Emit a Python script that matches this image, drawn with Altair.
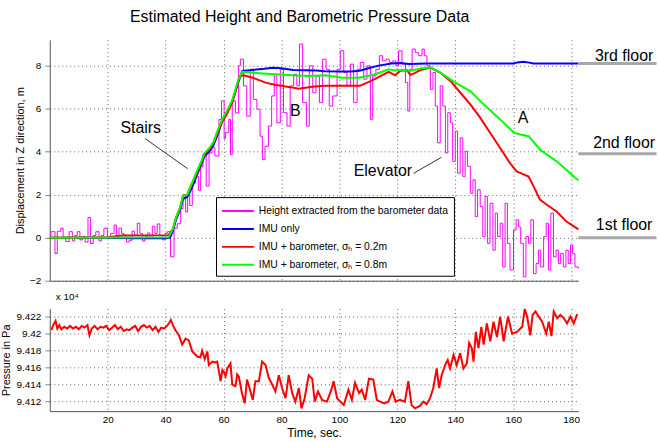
import altair as alt
import pandas as pd

FONT = "Liberation Sans"

# ---------------- data ----------------
series_names = [
    "Height extracted from the barometer data",
    "IMU only",
    "IMU + barometer, σₕ = 0.2m",
    "IMU + barometer, σₕ = 0.8m",
]
series_colors = ["#ff00ff", "#0000ff", "#ff0000", "#00ff00"]

baro_t = [0, 0.4, 1.8, 2.6, 3.8, 4.6, 5.5, 6.7, 7.8, 8.6,
          9.5, 10.4, 11.3, 12.2, 13.2, 14.1, 15.0, 15.9, 17.0, 17.8,
          18.7, 19.9, 21.0, 22.2, 23.0, 23.9, 24.8, 25.6, 26.5, 27.4,
          28.4, 29.3, 30.2, 31.1, 32.0, 32.9, 33.7, 34.6, 35.4, 36.3,
          37.1, 38.0, 38.9, 39.8, 40.6, 41.7, 42.9, 44.0, 45.2, 46.0,
          46.9, 47.6, 48.3, 49.2, 50.3, 51.3, 52.1, 52.9, 54.0, 55.0,
          56.0, 57.0, 58.4, 59.3, 60.2, 60.7, 61.8, 62.4, 63.0, 64.1,
          65.2, 65.8, 66.9, 68.0, 69.2, 70.3, 71.5, 72.6, 73.4, 74.3,
          75.5, 76.6, 77.5, 78.4, 79.6, 80.7, 81.9, 83.0, 84.2, 85.3,
          86.2, 87.3, 88.6, 89.6, 90.8, 91.9, 93.1, 94.2, 95.4, 96.5,
          97.7, 99.2, 100.3, 101.5, 102.6, 103.8, 104.9, 106.1, 107.2, 108.4,
          109.5, 110.7, 111.5, 112.6, 113.8, 114.9, 116.1, 117.2, 118.4, 119.5,
          120.4, 121.6, 122.8, 123.6, 124.3, 125.1, 126.2, 127.4, 128.5, 129.3,
          130.2, 131.4, 132.3, 133.1, 133.9, 134.8, 135.7, 136.6, 137.4, 138.3,
          139.1, 140.0, 140.8, 141.7, 142.6, 143.4, 144.2, 145.2, 146.1, 146.9,
          147.7, 148.6, 149.5, 150.3, 151.1, 152.0, 153.0, 153.8, 154.6, 155.5,
          156.4, 157.2, 158.0, 158.9, 160.1, 161.0, 161.9, 162.6, 163.5, 164.4,
          165.3, 166.1, 167.0, 167.9, 168.7, 169.5, 170.5, 171.4, 172.2, 173.0,
          173.9, 174.8, 175.6, 176.4, 177.3, 178.2, 179.0, 179.8, 180.5, 181.3,
          182.5]
baro_h = [0.1, 0.28, -0.73, 0.3, 0.44, 0.0, -0.18, 0.28, -0.15, 0.1,
          0.28, -0.1, 0.06, -0.2, 0.94, -0.27, 0.1, 0.28, -0.15, 0.1,
          0.44, -0.03, 0.2, 0.59, 0.1, 0.44, 0.2, 0.12, -0.2, -0.12,
          0.3, 0.1, 0.67, 0.2, -0.15, 0.05, 0.22, 0.0, 0.53, 0.2,
          0.64, 0.1, -0.1, 0.2, 0.28, -0.89, 0.44, 0.65, 1.36, 2.0,
          1.2, 2.0, 1.5, 2.54, 2.85, 2.2, 3.3, 3.9, 2.4, 3.94,
          4.2, 3.8, 5.5, 6.36, 4.6, 4.88, 5.5, 3.86, 6.36, 5.8,
          8.0, 8.3, 7.06, 5.65, 7.83, 6.43, 5.97, 4.72, 3.63, 4.25,
          5.19, 6.59, 7.52, 5.34, 7.83, 5.81, 5.19, 7.06, 7.6, 7.06,
          9.0, 6.28, 5.19, 7.99, 6.74, 7.52, 6.28, 8.3, 7.83, 6.12,
          6.59, 7.83, 8.69, 7.68, 7.06, 8.07, 6.28, 7.83, 8.15, 7.37,
          7.99, 5.5, 7.52, 7.83, 8.46, 8.22, 8.3, 8.15, 8.22, 7.99,
          8.69, 8.07, 7.21, 5.89, 7.83, 8.77, 8.6, 8.46, 8.77, 8.46,
          7.99, 6.9, 7.68, 6.12, 4.41, 7.06, 6.12, 3.94, 5.81, 5.34,
          3.55, 4.95, 3.0, 4.64, 2.85, 4.02, 3.32, 2.07, 2.69, 0.98,
          2.23, 1.45, 0.05, 1.92, -0.26, 1.6, -0.58, 1.14, 0.05, 0.67,
          -1.36, 1.6, -0.26, -1.5, 0.36, 0.83, 0.5, -0.26, -1.82, 0.05,
          -0.26, 0.83, -1.67, -1.2, -0.58, -1.36, 0.05, 0.67, -1.5, 1.14,
          -0.89, -0.58, -1.2, -0.73, -1.36, -0.58, -1.2, -0.34, -0.73, -1.36,
          -1.43]

imu_t = [0, 10, 20, 28, 40, 41.5, 42.5, 43.5, 45, 46, 47.5, 49, 50.5, 52, 53.5,
         55, 56.5, 58, 59.5, 61, 63, 65, 66.5, 70, 74, 77, 80, 84, 88, 92, 95,
         100, 104, 107, 110, 113.5, 118, 121, 124, 130, 140, 150, 160, 161.5,
         163.5, 165.5, 167, 175, 182.5]
imu_h = [0.0, 0.0, 0.0, -0.03, -0.03, 0.0, 0.3, 0.8, 1.3, 1.8, 1.9, 2.3, 2.8, 3.3, 3.8,
         4.0, 4.3, 4.8, 5.4, 5.8, 6.3, 7.2, 7.75, 7.8, 7.85, 7.9, 7.88, 7.8, 7.78, 7.77, 7.74,
         7.73, 7.73, 7.76, 7.88, 8.0, 8.1, 8.12, 8.08, 8.1, 8.1, 8.1, 8.1, 8.15,
         8.18, 8.14, 8.1, 8.1, 8.1]

f02_t = [0, 20, 25, 41, 42.5, 43.5, 45, 46, 47.5, 49, 50.5, 52, 53.5, 55, 56.5,
         58, 59.5, 61, 63, 64.5, 65.5, 67, 70, 74.5, 78, 80, 83, 86, 90.5, 95,
         101, 107, 111, 114, 117, 119.3, 121, 123.3, 124.5, 126, 128, 131.4, 134.8,
         138.3, 141.7, 145.2, 148.6, 152, 155.5, 158.9, 161.2, 163, 165.3, 167,
         169.3, 172, 175, 178.4, 182.5]
f02_h = [0.0, 0.02, 0.1, 0.12, 0.4, 0.9, 1.4, 1.95, 2.0, 2.5, 2.9, 3.4, 3.9, 4.1, 4.4,
         4.9, 5.4, 5.7, 6.3, 7.0, 7.5, 7.55, 7.44, 7.21, 7.1, 7.06, 7.0, 6.93, 7.02, 7.06,
         7.06, 7.06, 7.29, 7.5, 7.71, 7.55, 7.76, 7.79, 7.57, 7.65, 7.8, 7.91, 7.68,
         7.29, 6.75, 6.2, 5.58, 4.88, 4.17, 3.47, 3.08, 2.98, 2.84, 2.4,
         1.76, 1.5, 1.22, 0.75, 0.39]

f08_t = [0, 41, 42.5, 43.5, 45, 46, 47.5, 49, 50.5, 52, 53.5, 55, 56.5, 58, 59.5,
         61, 63, 65, 66.4, 72.2, 78, 83.7, 89.4, 95.2, 101, 106.7, 112.4, 117, 119,
         122, 124.5, 128, 131.4, 134.8, 140, 145.2, 149.8, 155.5, 160.3, 162.5,
         165.3, 169.3, 175, 182.5]
f08_h = [0.0, 0.02, 0.4, 0.9, 1.4, 1.95, 2.0, 2.5, 3.0, 3.45, 3.95, 4.15, 4.45, 5.0, 5.5,
         5.85, 6.4, 7.3, 7.71, 7.65, 7.6, 7.55, 7.52, 7.55, 7.44, 7.44, 7.6, 7.83, 7.78,
         7.8, 7.76, 7.87, 7.91, 7.68, 7.21, 6.82, 6.2, 5.5, 4.88, 4.8,
         4.72, 4.09, 3.55, 2.66]

press_t = [0.5, 1.2, 2.0, 2.6, 3.3, 4.0, 5.0, 6.0, 7.0, 8.0,
           9.0, 10.0, 11.0, 12.0, 13.0, 13.7, 14.5, 15.5, 16.5, 17.5,
           18.5, 19.5, 20.5, 21.5, 22.5, 23.5, 24.5, 25.5, 26.5, 27.5,
           28.5, 29.5, 30.5, 31.5, 32.5, 33.5, 34.5, 35.5, 36.5, 37.5,
           38.5, 39.5, 40.5, 41.3, 41.8, 42.5, 43.4, 44.6, 45.7, 46.9,
           48.0, 49.2, 50.9, 52.0, 52.6, 53.5, 54.4, 54.9, 56.1, 57.0,
           57.8, 59.0, 59.6, 60.1, 60.7, 61.3, 62.4, 63.0, 64.1, 64.7,
           65.3, 66.4, 67.3, 68.1, 69.3, 70.1, 71.0, 72.2, 73.3, 74.5,
           75.6, 76.8, 77.9, 79.1, 80.2, 81.4, 82.5, 83.7, 84.8, 86.0,
           86.9, 88.0, 89.4, 90.6, 91.5, 92.6, 94.0, 95.7, 97.2, 98.0,
           99.2, 100.3, 101.5, 103.1, 104.3, 105.4, 106.8, 107.7, 108.9, 110.2,
           111.7, 112.9, 114.0, 115.5, 116.9, 118.3, 119.4, 120.9, 122.6, 123.8,
           124.9, 126.1, 127.8, 129.0, 130.1, 131.3, 132.4, 133.6, 134.4, 135.3,
           136.5, 137.4, 138.2, 139.4, 140.5, 141.7, 142.8, 144.0, 144.8, 145.7,
           146.3, 147.1, 148.0, 149.0, 149.8, 150.9, 152.1, 153.2, 154.4, 155.5,
           156.7, 158.2, 159.6, 161.3, 163.1, 164.0, 164.8, 165.9, 166.7, 167.7,
           168.8, 170.0, 171.4, 172.3, 173.2, 174.0, 175.2, 176.3, 177.5, 178.6,
           179.8, 180.9, 182.1]
press_v = [9.4204, 9.4210, 9.4215, 9.4206, 9.4210, 9.4205, 9.4208, 9.4206, 9.4209, 9.4206,
           9.4208, 9.4205, 9.4209, 9.4207, 9.4210, 9.4198, 9.4206, 9.4209, 9.4205, 9.4208,
           9.4207, 9.4209, 9.4204, 9.4207, 9.4210, 9.4205, 9.4208, 9.4203, 9.4205, 9.4204,
           9.4207, 9.4209, 9.4203, 9.4208, 9.4210, 9.4207, 9.4209, 9.4204, 9.4208, 9.4202,
           9.4207, 9.4206, 9.4209, 9.4213, 9.4216, 9.4210, 9.4204, 9.4198, 9.4187, 9.4194,
           9.4192, 9.4179, 9.4173, 9.4172, 9.4180, 9.4170, 9.4179, 9.4163, 9.4167, 9.4166,
           9.4167, 9.4144, 9.4157, 9.4155, 9.4150, 9.4159, 9.4165, 9.4140, 9.4138, 9.4152,
           9.4149, 9.4129, 9.4118, 9.4146, 9.4132, 9.4122, 9.4144, 9.4144, 9.4167, 9.4163,
           9.4148, 9.4140, 9.4132, 9.4151, 9.4136, 9.4124, 9.4151, 9.4130, 9.4120, 9.4136,
           9.4112, 9.4124, 9.4151, 9.4147, 9.4120, 9.4132, 9.4122, 9.4120, 9.4134, 9.4144,
           9.4124, 9.4120, 9.4116, 9.4134, 9.4122, 9.4142, 9.4130, 9.4134, 9.4122, 9.4147,
           9.4146, 9.4122, 9.4120, 9.4118, 9.4120, 9.4132, 9.4120, 9.4122, 9.4120, 9.4144,
           9.4116, 9.4112, 9.4115, 9.4120, 9.4117, 9.4124, 9.4136, 9.4159, 9.4136, 9.4151,
           9.4163, 9.4169, 9.4159, 9.4175, 9.4163, 9.4177, 9.4159, 9.4165, 9.4189, 9.4183,
           9.4167, 9.4202, 9.4183, 9.4208, 9.4187, 9.4212, 9.4191, 9.4214, 9.4196, 9.4220,
           9.4191, 9.4220, 9.4200, 9.4202, 9.4208, 9.4229, 9.4220, 9.4198, 9.4222, 9.4226,
           9.4220, 9.4214, 9.4200, 9.4214, 9.4197, 9.4226, 9.4218, 9.4222, 9.4218, 9.4212,
           9.4220, 9.4212, 9.4223]

note_text = ["Stairs", "B", "Elevator", "A"]
note_t = [31.4, 84.8, 115.0, 163.4]
note_h = [5.1, 5.9, 3.1, 5.56]

leader_t1 = [32.9, 125.6]
leader_h1 = [4.61, 2.99]
leader_t2 = [47.6, 135.2]
leader_h2 = [3.21, 3.74]

floor_text = ["3rd floor", "2nd floor", "1st floor"]
floor_h = [8.1, 3.9, 0.0]
floor_label_h = [8.46, 4.39, 0.61]
floor_t1 = 182.5
floor_t2 = 209.5
floor_label_t = 198.3

x_ticks = [20, 40, 60, 80, 100, 120, 140, 160, 180]
h_ticks = [-2, 0, 2, 4, 6, 8]
p_ticks = [9.412, 9.414, 9.416, 9.418, 9.42, 9.422]

# ---------------- tables ----------------
def frame(t, h, name):
    return pd.DataFrame({"t": t, "h": h, "series": name})

baro_df = frame(baro_t, baro_h, series_names[0])
imu_df = frame(imu_t, imu_h, series_names[1])
f02_df = frame(f02_t, f02_h, series_names[2])
f08_df = frame(f08_t, f08_h, series_names[3])
press_df = pd.DataFrame({"t": press_t, "p": press_v})
notes_df = pd.DataFrame({"t": note_t, "h": note_h, "label": note_text})
leaders_df = pd.DataFrame({"t1": leader_t1, "h1": leader_h1, "t2": leader_t2, "h2": leader_h2})
floors_df = pd.DataFrame({"h": floor_h, "lh": floor_label_h, "label": floor_text,
                          "t1": floor_t1, "t2": floor_t2, "tl": floor_label_t})

W = 531
xscale = alt.Scale(domain=[0, 182.5], nice=False, zero=False)
hscale = alt.Scale(domain=[-2, 9.2], nice=False, zero=False)
pscale = alt.Scale(domain=[9.41088, 9.42294], nice=False, zero=False)

color = alt.Color(
    "series:N",
    scale=alt.Scale(domain=series_names, range=series_colors),
    legend=alt.Legend(
        title=None, orient="none", legendX=167, legendY=158,
        fillColor="white", strokeColor="black", padding=5,
        labelFontSize=10.4, labelFont=FONT, labelColor="black", labelLimit=400,
        symbolType="M-1,0L3,0", symbolStrokeWidth=2, symbolSize=256,
        rowPadding=3, labelOffset=20,
    ),
)

x_top = alt.X("t:Q", scale=xscale,
              axis=alt.Axis(values=x_ticks, labels=False, ticks=False, grid=True, title=None))
y_top = alt.Y("h:Q", scale=hscale,
              axis=alt.Axis(values=h_ticks, grid=True, title="Displacement in Z direction, m"))

baro_line = alt.Chart(baro_df).mark_line(strokeWidth=1, interpolate="step-after").encode(
    x=x_top, y=y_top, color=color)
imu_line = alt.Chart(imu_df).mark_line(strokeWidth=2).encode(x=x_top, y=y_top, color=color)
f02_line = alt.Chart(f02_df).mark_line(strokeWidth=2).encode(x=x_top, y=y_top, color=color)
f08_line = alt.Chart(f08_df).mark_line(strokeWidth=2).encode(x=x_top, y=y_top, color=color)

notes = alt.Chart(notes_df).mark_text(fontSize=16, font=FONT, color="black").encode(
    x=alt.X("t:Q", scale=xscale), y=alt.Y("h:Q", scale=hscale), text="label:N")
leaders = alt.Chart(leaders_df).mark_rule(color="black", strokeWidth=0.8).encode(
    x=alt.X("t1:Q", scale=xscale), x2="t2:Q",
    y=alt.Y("h1:Q", scale=hscale), y2="h2:Q")
floor_lines = alt.Chart(floors_df).mark_rule(color="#a8a8a8", strokeWidth=3, clip=False).encode(
    x=alt.X("t1:Q", scale=xscale), x2="t2:Q", y=alt.Y("h:Q", scale=hscale))
floor_labels = alt.Chart(floors_df).mark_text(fontSize=16, font=FONT, color="black",
                                              clip=False, baseline="middle").encode(
    x=alt.X("tl:Q", scale=xscale), y=alt.Y("lh:Q", scale=hscale), text="label:N")

top = alt.layer(baro_line, imu_line, f02_line, f08_line, leaders, notes,
                floor_lines, floor_labels).properties(width=W, height=242)

bottom = alt.Chart(press_df).mark_line(color="#ff0000", strokeWidth=2).encode(
    x=alt.X("t:Q", scale=xscale,
            axis=alt.Axis(values=x_ticks, ticks=False, grid=True, title="Time, sec.",
                          titleFontSize=12, labelPadding=3, titlePadding=3)),
    y=alt.Y("p:Q", scale=pscale,
            axis=alt.Axis(values=p_ticks, grid=True, title="Pressure in Pa",
                          labelExpr="format(datum.value, '.3~f')")),
).properties(
    width=W, height=103,
    title=alt.TitleParams("x 10⁴", anchor="start", frame="group", fontSize=10,
                          fontWeight="normal", font=FONT, offset=3, color="black", dx=6),
)

chart = alt.vconcat(top, bottom, spacing=4).properties(
    title=alt.TitleParams("Estimated Height and Barometric Pressure Data",
                          fontSize=16, fontWeight="normal", font=FONT, color="black",
                          anchor="middle", offset=14, dx=-30),
    padding={"left": 0, "top": 8, "right": 0, "bottom": 0},
).configure_view(stroke="transparent").configure_axis(
    labelFont=FONT, titleFont=FONT, labelFontSize=10, titleFontSize=11,
    titleFontWeight="normal", labelColor="black", titleColor="black",
    domainColor="#555555", gridColor="#666666", gridDash=[1, 3], gridOpacity=1,
    titlePadding=4, labelPadding=4,
)

chart.save("out.html", embed_options={"renderer": "svg", "actions": False})
